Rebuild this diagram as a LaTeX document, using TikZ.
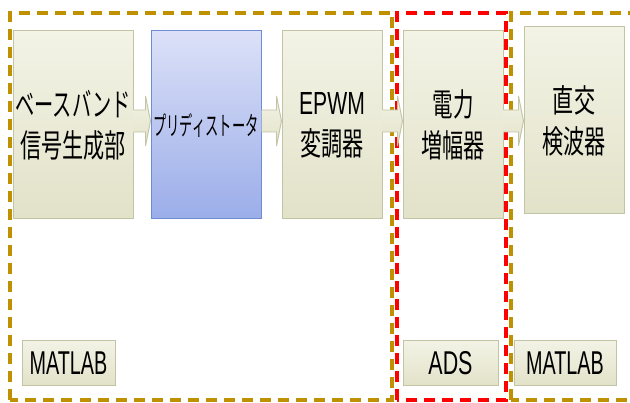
\documentclass[tikz,border=0pt]{standalone}
\usepackage{fontspec}
\setmainfont{Liberation Sans}
\newfontfamily\jp{Noto Sans CJK JP}
\usetikzlibrary{calc}
\definecolor{gold}{HTML}{BF9000}
\definecolor{boxtop}{HTML}{F3F3E6}
\definecolor{boxbot}{HTML}{E2E2C9}
\definecolor{boxline}{HTML}{C3C3A6}
\definecolor{bluetop}{HTML}{DCE1F8}
\definecolor{bluebot}{HTML}{9BADE9}
\definecolor{blueline}{HTML}{6F8BD2}
\newcommand\sq[2][0.66]{\scalebox{#1}[1]{#2}}
\begin{document}
\begin{tikzpicture}[x=1pt,y=1pt,
  blockbox/.style={draw=boxline, line width=1pt, top color=boxtop, bottom color=boxbot,
    minimum height=188, inner sep=0pt, align=center,
    font=\jp\fontsize{32}{41}\selectfont},
  bluebox/.style={blockbox, draw=blueline, top color=bluetop, bottom color=bluebot,
    font=\jp\fontsize{26}{30}\selectfont},
  toolbox/.style={draw=boxline, line width=1pt, top color=boxtop, bottom color=boxbot,
    minimum height=45, inner sep=0pt, font=\fontsize{33}{36}\selectfont},
  goldzone/.style={draw=gold, line width=4pt, dash pattern=on 11pt off 7pt},
  redzone/.style={draw=red, line width=4pt, dash pattern=on 11pt off 7pt},
  arrowfill/.style={top color=boxtop, bottom color=boxbot},
  arrowline/.style={draw=boxline, line width=0.9pt, line join=miter}
]
\useasboundingbox (0,0) rectangle (630,403);
\clip (0,0) rectangle (630,403);
\fill[white] (0,0) rectangle (630,403);

% zones
\draw[goldzone] (9.5,3) rectangle (392,390);
\draw[redzone] (397,3) rectangle (506,390);
\draw[goldzone] (511,3) rectangle (650,390);

% blocks
\node[blockbox, minimum width=120] (b1) at (73,278)
  {\sq[0.6]{ベースバンド}\\\sq{信号生成部}};
\node[bluebox, minimum width=110] (b2) at (206,278)
  {\sq[0.51]{プリディストータ}};
\node[blockbox, minimum width=100] (b3) at (332,278)
  {\sq{\rmfamily EPWM}\\\sq{変調器}};
\node[blockbox, minimum width=100] (b4) at (453,278)
  {\sq[0.64]{電力}\\\sq{増幅器}};
\node[blockbox, minimum width=100, minimum height=187] (b5) at (574,282.5)
  {\sq{直交}\\\sq{検波器}};

% arrows
\foreach \a/\b in {b1/b2, b2/b3, b3/b4, b4/b5} {
  \path[arrowfill] let \p1=(\a.east), \p2=(\b.west) in
    (\x1,293) -- (\x2-5,293) -- (\x2-5,307) -- (\x2,282) -- (\x2-5,257)
    -- (\x2-5,271) -- (\x1,271) -- cycle;
  \draw[arrowline] let \p1=(\a.east), \p2=(\b.west) in
    (\x1,293) -- (\x2-5,293) -- (\x2-5,307) -- (\x2,282) -- (\x2-5,257)
    -- (\x2-5,271) -- (\x1,271);
}

% tool labels
\node[toolbox, minimum width=93] (t1) at (68.5,39.5) {\sq[0.6]{MATLAB}};
\node[toolbox, minimum width=95] (t2) at (450.5,39.5) {\sq[0.65]{ADS}};
\node[toolbox, minimum width=102] (t3) at (565,39.5) {\sq[0.6]{MATLAB}};
\end{tikzpicture}
\end{document}
